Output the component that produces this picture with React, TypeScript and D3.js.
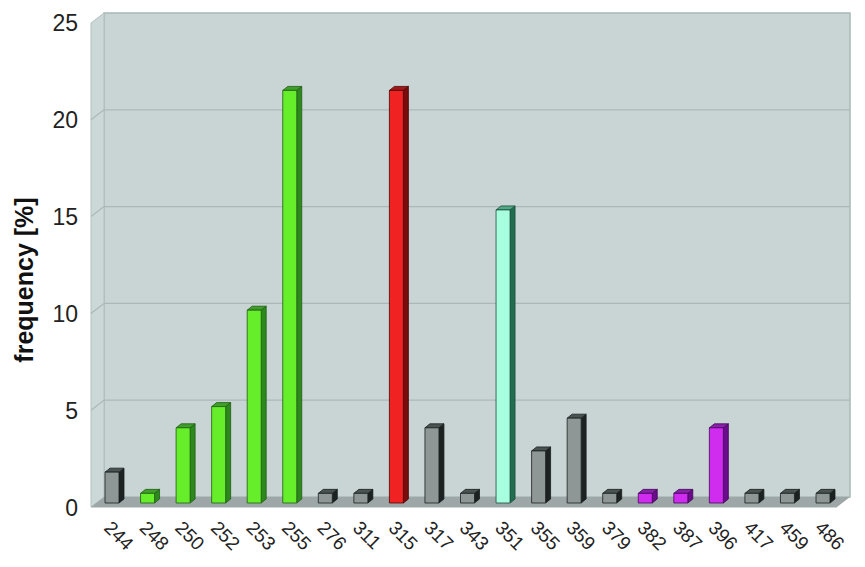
import React from "react";
import * as d3 from "d3";

const categories = ["244","248","250","252","253","255","276","311","315","317","343","351","355","359","379","382","387","396","417","459","486"];
const values = [1.6,0.5,3.9,5.0,10.0,21.4,0.5,0.5,21.4,3.9,0.5,15.2,2.7,4.4,0.5,0.5,0.5,3.9,0.5,0.5,0.5];
const groups = ["grey","green","green","green","green","green","grey","grey","red","grey","grey","cyan","grey","grey","grey","magenta","magenta","magenta","grey","grey","grey"];
const yTicks = [0,5,10,15,20,25];

const palette: Record<string,{front:string;side:string;top:string;stroke:string}> = {
  grey: { front: "#8f9696", side: "#1c2222", top: "#4a5252", stroke: "#1a1f1f" },
  green: { front: "#66ee2a", side: "#2c8a1c", top: "#3f9f2a", stroke: "#1f5a14" },
  red: { front: "#f02222", side: "#7a0c0c", top: "#a01818", stroke: "#4a0505" },
  cyan: { front: "#a8ffe0", side: "#1f6e50", top: "#4fa888", stroke: "#1a4a38" },
  magenta: { front: "#d02cf0", side: "#6a0c8c", top: "#8a20aa", stroke: "#40085a" },
};

export default function App() {
  const W = 865, H = 567;
  const dx = 13, dy = -10;
  const frontLeft = 91, frontRight = 837, frontZero = 507;
  const yFront = d3.scaleLinear().domain([0, 25]).range([frontZero, frontZero - 484]);
  const yBack = (v: number) => yFront(v) + dy;
  const yLabel = d3.scaleLinear().domain([0, 25]).range([508, 23]);
  const x = d3.scalePoint<string>().domain(categories).range([112, 823]);
  const barBase = 503;
  const yBar = d3.scaleLinear().domain([0, 25]).range([barBase, barBase - 482]);
  const bw = 14, sdx = 5, sdy = -4;

  const wallFill = "#c9d5d4";
  const gridColor = "#aab9b8";

  return (
    <svg width={W} height={H} style={{ position: "absolute", left: 0, top: 0, background: "#fff" }} fontFamily="Liberation Sans, Arial, sans-serif">
      <rect x={frontLeft + dx} y={yBack(25)} width={frontRight - frontLeft} height={yBack(0) - yBack(25)} fill={wallFill} stroke="#a9b7b6" strokeWidth={1.5} />
      <polygon points={`${frontLeft},${yFront(25)} ${frontLeft + dx},${yBack(25)} ${frontLeft + dx},${yBack(0)} ${frontLeft},${yFront(0)}`} fill="#ccd8d7" stroke="#b3c0bf" strokeWidth={1} />
      {yTicks.filter(t => t > 0 && t < 25).map(t => (
        <g key={t}>
          <line x1={frontLeft + dx} x2={frontRight + dx} y1={yBack(t)} y2={yBack(t)} stroke={gridColor} strokeWidth={1.2} />
          <line x1={frontLeft} x2={frontLeft + dx} y1={yFront(t)} y2={yBack(t)} stroke={gridColor} strokeWidth={1.2} />
        </g>
      ))}
      <polygon points={`${frontLeft},${yFront(0)} ${frontLeft + dx},${yBack(0)} ${frontRight + dx},${yBack(0)} ${frontRight},${yFront(0)}`} fill="#9ea7a7" />
      <line x1={frontLeft} x2={frontRight} y1={yFront(0) + 0.5} y2={yFront(0) + 0.5} stroke="#cfd6d6" strokeWidth={1} />
      {categories.map((c, i) => {
        const p = palette[groups[i]];
        const cx = x(c)!;
        const x0 = cx - bw / 2, x1 = cx + bw / 2;
        const yt = yBar(values[i]);
        return (
          <g key={c} stroke={p.stroke} strokeWidth={0.8} strokeLinejoin="round">
            <polygon points={`${x1},${barBase} ${x1},${yt} ${x1 + sdx},${yt + sdy} ${x1 + sdx},${barBase + sdy}`} fill={p.side} />
            <polygon points={`${x0},${yt} ${x0 + sdx},${yt + sdy} ${x1 + sdx},${yt + sdy} ${x1},${yt}`} fill={p.top} />
            <rect x={x0} y={yt} width={bw} height={barBase - yt} fill={p.front} />
          </g>
        );
      })}
      {yTicks.map(t => (
        <text key={t} x={78} y={yLabel(t)} fontSize={23} textAnchor="end" dominantBaseline="central" fill="#222">{t}</text>
      ))}
      <text transform={`translate(33,280) rotate(-90)`} fontSize={25} fontWeight="bold" textAnchor="middle" fill="#111">frequency [%]</text>
      {categories.map(c => (
        <text key={c} transform={`translate(${x(c)! - 9},${529}) rotate(45)`} fontSize={19} fill="#222">{c}</text>
      ))}
    </svg>
  );
}
